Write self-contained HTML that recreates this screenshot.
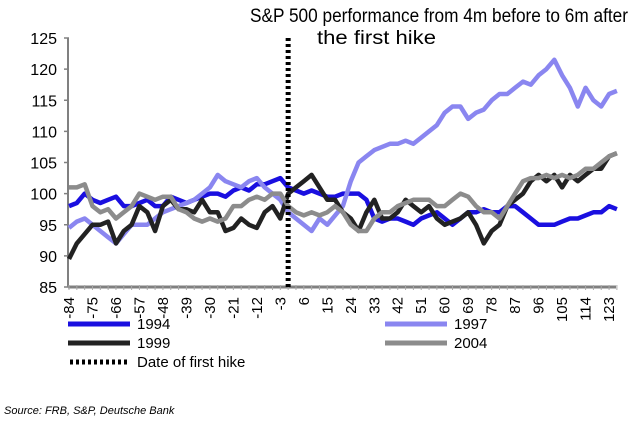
<!DOCTYPE html>
<html><head><meta charset="utf-8"><style>
body{margin:0;background:#fff;font-family:"Liberation Sans",sans-serif}
svg{display:block}
</style></head><body>
<svg width="640" height="430" id="c">
<text x="250" y="22" font-size="19" textLength="378" lengthAdjust="spacingAndGlyphs">S&amp;P 500 performance from 4m before to 6m after</text>
<text x="317" y="44" font-size="19" textLength="119" lengthAdjust="spacingAndGlyphs">the first hike</text>
<g id="axes"></g><g id="series"></g>
<g font-size="15">
<line x1="68" y1="324" x2="130" y2="324" stroke="#1a0fe0" stroke-width="5"/>
<text x="137" y="329">1994</text>
<line x1="385" y1="324" x2="447" y2="324" stroke="#8a86f0" stroke-width="5"/>
<text x="454" y="329">1997</text>
<line x1="68" y1="343" x2="130" y2="343" stroke="#222" stroke-width="5"/>
<text x="137" y="348">1999</text>
<line x1="385" y1="343" x2="447" y2="343" stroke="#8c8c8c" stroke-width="5"/>
<text x="454" y="348">2004</text>
<line x1="70" y1="362" x2="130" y2="362" stroke="#000" stroke-width="5" stroke-dasharray="3 3"/>
<text x="137" y="367">Date of first hike</text>
</g>
<text x="4" y="414" font-size="11" font-style="italic">Source: FRB, S&amp;P, Deutsche Bank</text>
</svg>
<script>
const xStart=-84, xStep=3;
const yTicks=[85,90,95,100,105,110,115,120,125];
const xTicks=[-84,-75,-66,-57,-48,-39,-30,-21,-12,-3,6,15,24,33,42,51,60,69,78,87,96,105,114,123];
const hikeX=0;
const s1994=[98,98.5,100,99,98.5,99,99.5,98,98,98.5,99,98,98,99.5,99,98.5,99,99.5,100,100,99.5,100.5,101,100.5,101.5,101.5,102,102.5,101,100.5,100,100.5,100,99.5,99.5,100,100,100,99,96,95.5,96,96,95.5,95,96,96.5,97,96,95,96,97,97,97.5,97,97,98,98,97,96,95,95,95,95.5,96,96,96.5,97,97,98,97.5];
const s1997=[94.5,95.5,96,95,94,93,92,93.5,95,95,95,96,97,97.5,98,98.5,99,100,101,103,102,101.5,101,102,102.5,101,100,99,97,96,95,94,96,95,96.5,98,102,105,106,107,107.5,108,108,108.5,108,109,110,111,113,114,114,112,113,113.5,115,116,116,117,118,117.5,119,120,121.5,119,117,114,117,115,114,116,116.5];
const s1999=[89.5,92,93.5,95,95,95.5,92,94,95,98,97,94,98,99,97.5,97.5,97,99,97,97,94,94.5,96,95,94.5,97,98,96,100,101,102,103,101,99,99,97,96,94,97,99,96,96,97,99,98,97,98,96,95,95.5,96,97,95,92,94,95,98,99,100,102,103,102,103,101,103,102,103,104,104,106,106.5];
const s2004=[101,101,101.5,98,97,97.5,96,97,98,100,99.5,99,99.5,99.5,97.5,97,96,95.5,96,95.5,96,98,98,99,99.5,99,100,100,98,97,96.5,97,96.5,97,98,97,95,94,94,96,97,97,98,98.5,99,99,99,98,98,99,100,99.5,98,97,97,96,98,100,102,102.5,102.5,103,102.5,103,102.5,103,104,104,105,106,106.5];
const NS="http://www.w3.org/2000/svg";
const X=v=>69+(v+84)*2.609, Y=v=>38+(125-v)*6.225;
const ax=document.getElementById('axes'), sg=document.getElementById('series');
function mk(t,a,p){const e=document.createElementNS(NS,t);for(const k in a)e.setAttribute(k,a[k]);p.appendChild(e);return e;}
let yl=mk('line',{x1:X(-84)-1,y1:Y(125),x2:X(-84)-1,y2:Y(85),stroke:'#808080','stroke-width':2},ax);


let xl=mk('line',{x1:X(-84)-1,y1:Y(85),x2:616,y2:Y(85),stroke:'#808080','stroke-width':3},ax);


yTicks.forEach(v=>{
 mk('line',{x1:X(-84)-5,x2:X(-84),y1:Y(v),y2:Y(v),stroke:'#808080','stroke-width':1.5},ax);
 const t=mk('text',{x:57,y:Y(v)+6,'font-size':16,'text-anchor':'end'},ax);t.textContent=v;
 
 
});
for(let v=-84;v<=126;v+=3){mk('line',{x1:X(v),x2:X(v),y1:Y(85)-2,y2:Y(85)+3,stroke:'#aaa','stroke-width':1},ax);}
xTicks.forEach(v=>{
 const t=mk('text',{transform:`translate(${X(v)+5},297) rotate(-90)`,'font-size':15,'text-anchor':'end'},ax);t.textContent=v;
 
 
});
function line(arr,color,name){
 const pts=arr.map((v,i)=>X(xStart+i*xStep).toFixed(1)+','+Y(v).toFixed(1)).join(' ');
 const p=mk('polyline',{points:pts,fill:'none',stroke:color,'stroke-width':4.5,'stroke-linejoin':'round'},sg);
 
 
}
line(s1994,'#1a0fe0','series-1994');
line(s1997,'#8a86f0','series-1997');
line(s1999,'#222','series-1999');
line(s2004,'#8c8c8c','series-2004');
const h=mk('line',{x1:X(hikeX),x2:X(hikeX),y1:Y(125),y2:Y(85),stroke:'#000','stroke-width':5,'stroke-dasharray':'3 3'},sg);


</script>
</body></html>
